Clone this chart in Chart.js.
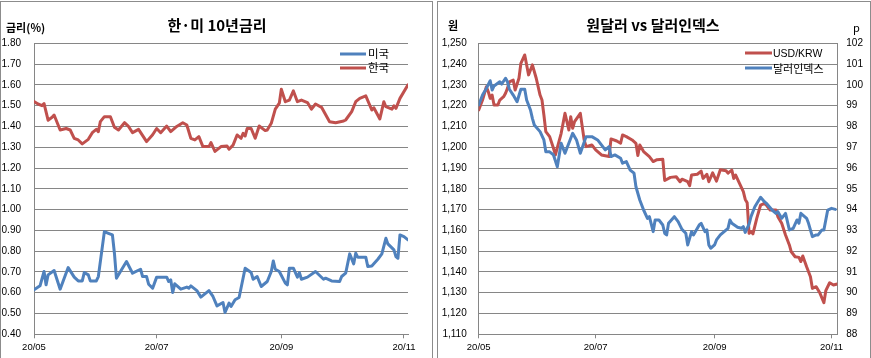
<!DOCTYPE html>
<html>
<head>
<meta charset="utf-8">
<script src="https://cdn.jsdelivr.net/npm/chart.js@4.4.0/dist/chart.umd.min.js"></script>
<style>
  html,body{margin:0;padding:0;background:#fff;width:871px;height:358px;overflow:hidden;}
  body{position:relative;font-family:"Noto Sans CJK KR","Liberation Sans",sans-serif;color:#000;}
  .box{position:absolute;top:1px;height:357px;border-top:1px solid #8c8c8c;border-left:1px solid #8c8c8c;border-right:1px solid #8c8c8c;box-sizing:border-box;}
  canvas{position:absolute;top:0;}
  .t{position:absolute;white-space:nowrap;line-height:1;}
  .title{font-size:15px;font-weight:bold;transform:translate(-50%,-50%);}
  .unit{font-size:11px;font-weight:bold;transform:translateY(-50%);}
  .leg{font-size:11.5px;transform:translateY(-50%);}
  .sw{position:absolute;height:3px;transform:translateY(-50%);}
</style>
</head>
<body>
<div class="box" style="left:0;width:433px;"></div>
<div class="box" style="left:437px;width:434px;"></div>
<canvas id="c1" width="433" height="358" style="left:0"></canvas>
<canvas id="c2" width="434" height="358" style="left:437px"></canvas>

<div class="t title" style="left:217px;top:24px;">한·미 10년금리</div>
<div class="t unit" style="left:6px;top:27px;">금리(%)</div>
<div class="sw" style="left:340px;top:54px;width:26px;background:#4F81BD;"></div>
<div class="t leg" style="left:368px;top:54px;">미국</div>
<div class="sw" style="left:340px;top:68px;width:26px;background:#C0504D;"></div>
<div class="t leg" style="left:368px;top:68px;">한국</div>

<div class="t title" style="left:653px;top:24px;">원달러 vs 달러인덱스</div>
<div class="t unit" style="left:448px;top:25px;">원</div>
<div class="t unit" style="left:853px;top:27px;font-weight:normal;">p</div>
<div class="sw" style="left:745px;top:53px;width:27px;background:#C0504D;"></div>
<div class="t leg" style="left:773px;top:53px;font-size:10.5px;font-family:'Liberation Sans',sans-serif;">USD/KRW</div>
<div class="sw" style="left:745px;top:68px;width:27px;background:#4F81BD;"></div>
<div class="t leg" style="left:773px;top:68px;font-size:11px;">달러인덱스</div>

<script>
// ---- data (x = days since 2020-05-01) ----
const tickDays = [0, 61, 123, 184];
const tickLabels = ['20/05', '20/07', '20/09', '20/11'];

const krDays = [0,2,4,5,7,9,10,13,16,18,20,22,24,27,29,31,32,33,35,38,40,42,45,47,49,52,56,59,61,63,66,68,71,74,76,78,80,82,84,87,88,90,93,96,97,99,101,103,104,105,106,108,110,112,115,116,118,120,122,123,125,127,129,131,133,136,138,140,143,147,150,154,155,158,160,162,165,168,169,172,174,175,178,179,180,182,186];
const krRate = [1.52,1.508,1.50,1.51,1.43,1.444,1.455,1.383,1.39,1.383,1.343,1.335,1.316,1.338,1.37,1.386,1.375,1.423,1.447,1.447,1.396,1.383,1.418,1.40,1.37,1.386,1.327,1.36,1.39,1.37,1.402,1.375,1.40,1.418,1.407,1.343,1.335,1.351,1.303,1.303,1.322,1.28,1.303,1.306,1.29,1.31,1.359,1.343,1.367,1.354,1.39,1.39,1.343,1.402,1.38,1.383,1.415,1.483,1.512,1.579,1.519,1.527,1.571,1.519,1.527,1.515,1.483,1.508,1.492,1.423,1.418,1.426,1.431,1.471,1.519,1.535,1.547,1.479,1.49,1.436,1.519,1.495,1.483,1.499,1.487,1.535,1.60];

const usDays = [0,3,5,6,7,10,13,17,20,22,24,25,27,28,31,32,35,37,39,40,41,43,46,49,53,54,56,57,59,61,66,67,68,69,70,73,76,77,78,81,83,87,89,91,94,95,97,98,100,102,105,108,109,111,113,116,118,119,120,122,125,126,127,129,131,132,133,136,140,144,145,148,152,153,155,157,159,160,161,165,166,168,171,173,175,176,179,180,181,182,184,186];
const usRate = [0.614,0.633,0.702,0.638,0.686,0.707,0.617,0.721,0.675,0.657,0.657,0.697,0.686,0.657,0.657,0.678,0.894,0.886,0.878,0.79,0.67,0.702,0.75,0.694,0.713,0.678,0.678,0.641,0.622,0.675,0.675,0.654,0.662,0.601,0.643,0.617,0.627,0.622,0.633,0.61,0.579,0.61,0.582,0.537,0.553,0.505,0.55,0.534,0.566,0.577,0.718,0.697,0.665,0.678,0.63,0.654,0.702,0.753,0.713,0.702,0.646,0.638,0.718,0.718,0.675,0.697,0.665,0.675,0.702,0.665,0.67,0.657,0.654,0.678,0.694,0.787,0.739,0.79,0.771,0.771,0.726,0.729,0.761,0.787,0.862,0.835,0.806,0.774,0.766,0.878,0.87,0.854];

const krwDays = [0,2,4,5,6,7,8,10,11,13,14,15,16,18,19,21,22,24,26,28,30,32,33,34,35,37,39,40,43,45,47,48,49,50,53,55,56,59,61,64,68,69,72,74,75,77,80,82,83,84,86,89,91,93,96,97,100,103,105,106,109,110,111,114,116,117,119,120,122,124,126,129,130,132,133,134,136,138,139,140,141,142,143,145,147,149,150,152,155,156,158,160,162,163,165,167,168,169,171,173,174,176,178,180,181,183,185,187];
const usdKrw = [1217.9,1222.7,1229.1,1226.7,1223.5,1225.1,1220.3,1220.3,1222.7,1224.3,1226,1228.3,1231.5,1232.3,1227.5,1233.2,1240.4,1244.4,1234.8,1239.6,1233.2,1225.1,1222.7,1215.5,1207.5,1205.1,1199.5,1196.3,1206.7,1216.3,1208.3,1214.7,1209.1,1212.3,1216.3,1203.5,1200.3,1201.1,1198.7,1196.3,1195.5,1204,1203,1201.9,1205.9,1205.1,1203.5,1201.9,1196,1201.1,1197.9,1195.5,1193.1,1194,1194.2,1184,1185.5,1185.8,1183.4,1184.6,1183.4,1181.5,1186.6,1187,1188.5,1185,1187,1183.4,1187.7,1183.7,1189.2,1188.7,1187.5,1189,1185,1186.6,1182.6,1178.6,1174.9,1173.3,1158.6,1159.4,1158.3,1165.8,1172.2,1173,1172.2,1169.8,1169.8,1166.6,1163.4,1157.8,1153,1149.7,1147.3,1147,1145,1147.7,1142.5,1137.7,1132.1,1132.9,1129.7,1125.2,1131,1134.8,1133.7,1134.2];

const dxyDays = [0,2,4,6,7,8,11,12,14,15,16,18,20,22,24,25,27,28,29,32,34,35,37,39,41,43,45,47,49,51,53,56,59,62,64,66,68,69,71,74,75,77,79,81,82,84,86,88,89,91,92,94,96,97,98,99,102,104,106,108,109,111,112,115,116,118,119,120,121,123,124,126,128,130,131,132,135,137,138,139,141,142,144,147,149,150,153,155,156,158,160,162,164,166,167,168,171,172,174,176,177,179,180,182,184,186];
const dollarIndex = [99.03,99.51,99.83,100.2,99.75,99.95,100.15,100.04,100.32,100.15,99.79,99.51,99.19,99.79,99.79,99.27,98.79,98.39,98.07,97.75,97.35,96.78,96.78,96.63,96.06,97.19,96.71,97.19,97.67,97.35,96.71,97.51,97.51,97.35,97.11,96.87,97.03,96.55,96.63,96.47,96.23,96.31,95.9,95.75,95.1,94.46,93.98,93.58,93.66,92.94,93.5,93.5,93.26,92.86,92.78,93.34,93.66,93.42,93.05,92.86,92.3,92.94,92.78,93.26,93.34,92.94,93.02,92.3,92.14,92.3,92.54,92.78,92.94,93.1,93.5,93.34,93.15,93.1,93.18,92.9,93.3,93.66,94.14,94.59,94.38,94.3,93.98,93.82,93.9,93.58,93.82,93.02,93.1,93.5,93.34,93.82,93.58,93.34,92.7,92.78,92.78,93.02,93.02,93.98,94.06,94.01];

// ---- helpers ----
const pts = (xs, ys) => xs.map((x, i) => ({x: x, y: ys[i]}));
const GRID = '#868686';
const BLUE = '#4F81BD';
const RED = '#C0504D';
const tickFont = {family: "'Liberation Sans', 'Noto Sans CJK KR', sans-serif", size: 10};

function xScale(maxDay) {
  return {
    type: 'linear', min: 0, max: maxDay,
    afterBuildTicks: s => { s.ticks = tickDays.map(v => ({value: v})); },
    afterFit: s => { s.height = 23.7; },
    ticks: {
      autoSkip: false, maxRotation: 0, color: '#000', font: {family: tickFont.family, size: 9.5}, padding: 3,
      callback: v => { const i = tickDays.indexOf(v); return i >= 0 ? tickLabels[i] : ''; }
    },
    grid: {drawOnChartArea: false, drawTicks: true, tickLength: 4, color: GRID},
    border: {display: true, color: GRID}
  };
}

const lineDs = (label, data, color, axis) => ({
  label, data, borderColor: color, backgroundColor: color, borderWidth: 3,
  pointRadius: 0, tension: 0, fill: false, yAxisID: axis,
  borderJoinStyle: 'round', borderCapStyle: 'round'
});

const common = {
  responsive: false, animation: false, events: [],
  plugins: {legend: {display: false}, tooltip: {enabled: false}, title: {display: false}}
};

new Chart(document.getElementById('c1'), {
  type: 'line',
  data: {datasets: [
    lineDs('미국', pts(usDays, usRate), BLUE, 'y'),
    lineDs('한국', pts(krDays, krRate), RED, 'y')
  ]},
  options: Object.assign({}, common, {
    layout: {padding: {top: 43.3, right: 25, left: 0, bottom: 0}},
    scales: {
      x: xScale(186),
      y: {
        min: 0.4, max: 1.8,
        afterFit: s => { s.width = 34; },
        ticks: {stepSize: 0.1, color: '#000', font: tickFont, padding: 13,
                callback: v => Number(v).toFixed(2)},
        grid: {color: GRID, drawTicks: false, lineWidth: 1},
        border: {display: true, color: GRID}
      }
    }
  })
});

new Chart(document.getElementById('c2'), {
  type: 'line',
  data: {datasets: [
    lineDs('달러인덱스', pts(dxyDays, dollarIndex), BLUE, 'y1'),
    lineDs('USD/KRW', pts(krwDays, usdKrw), RED, 'y')
  ]},
  options: Object.assign({}, common, {
    layout: {padding: {top: 43.3, right: 0, left: 0, bottom: 0}},
    scales: {
      x: xScale(187),
      y: {
        position: 'left', min: 1110, max: 1250,
        afterFit: s => { s.width = 41.7; },
        ticks: {stepSize: 10, color: '#000', font: tickFont, padding: 12,
                callback: v => Number(v).toLocaleString('en-US')},
        grid: {color: GRID, drawTicks: false, lineWidth: 1},
        border: {display: true, color: GRID}
      },
      y1: {
        position: 'right', min: 88, max: 102,
        afterFit: s => { s.width = 33.7; },
        ticks: {stepSize: 1, color: '#000', font: tickFont, padding: 9},
        grid: {drawOnChartArea: false, drawTicks: false},
        border: {display: true, color: GRID}
      }
    }
  })
});
</script>
</body>
</html>
